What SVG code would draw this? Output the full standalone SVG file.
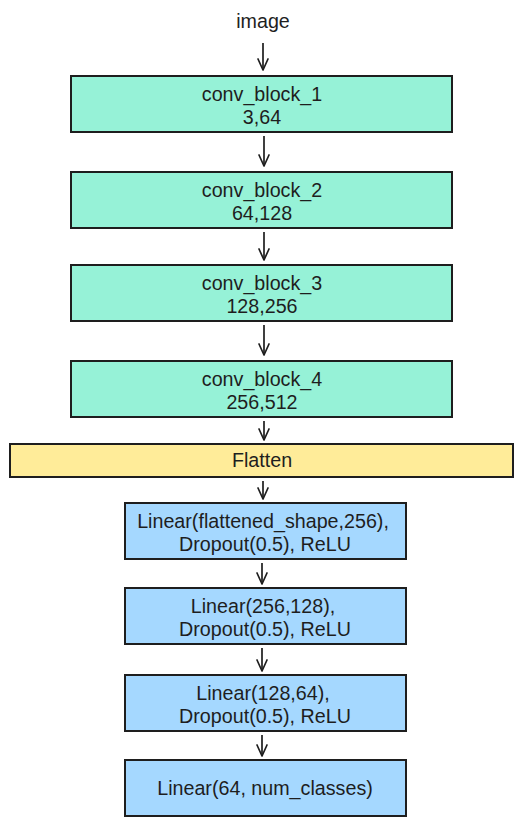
<svg xmlns="http://www.w3.org/2000/svg" width="531" height="825" viewBox="0 0 531 825">
<defs>
<marker id="ah" markerUnits="userSpaceOnUse" markerWidth="14" markerHeight="14" viewBox="-7 -12 14 14" refX="0" refY="0" orient="auto-start-reverse" overflow="visible">
<path d="M-11,-5 L0,0 L-11,5" fill="none" stroke="#1e1e1e" stroke-width="1.7" stroke-linecap="round" stroke-linejoin="round"/>
</marker>
<style>
.b{stroke:#1e1e1e;stroke-width:2}
.conv{fill:#96f2d7}
.flat{fill:#ffec99}
.lin{fill:#a5d8ff}
text{font-family:"Liberation Sans",Arial,Helvetica,sans-serif;font-size:19.7px;fill:#1e1e1e;text-anchor:middle}
.e{fill:none;stroke:#1e1e1e;stroke-width:1.7;marker-end:url(#ah)}
</style>
</defs>
<g id="image"><text x="263" y="28">image</text></g>
<g id="conv_block_1"><rect class="b conv" x="71" y="76" width="381" height="56"/><text x="262" y="101">conv_block_1</text><text x="262" y="124">3,64</text></g>
<g id="conv_block_2"><rect class="b conv" x="71" y="172" width="381" height="56"/><text x="262" y="197">conv_block_2</text><text x="262" y="220">64,128</text></g>
<g id="conv_block_3"><rect class="b conv" x="71" y="265" width="381" height="56"/><text x="262" y="290">conv_block_3</text><text x="262" y="313">128,256</text></g>
<g id="conv_block_4"><rect class="b conv" x="71" y="361" width="381" height="56"/><text x="262" y="386">conv_block_4</text><text x="262" y="409">256,512</text></g>
<g id="flatten"><rect class="b flat" x="10" y="444" width="503" height="33"/><text x="262" y="467">Flatten</text></g>
<g id="linear_1"><rect class="b lin" x="125" y="503" width="281" height="56"/><text x="263" y="528">Linear(flattened_shape,256),</text><text x="265" y="551">Dropout(0.5), ReLU</text></g>
<g id="linear_2"><rect class="b lin" x="125" y="588" width="281" height="56"/><text x="263" y="613">Linear(256,128),</text><text x="265" y="636">Dropout(0.5), ReLU</text></g>
<g id="linear_3"><rect class="b lin" x="125" y="675" width="281" height="56"/><text x="263" y="700">Linear(128,64),</text><text x="265" y="723">Dropout(0.5), ReLU</text></g>
<g id="linear_4"><rect class="b lin" x="125" y="760" width="281" height="56"/><text x="265" y="795">Linear(64, num_classes)</text></g>
<g id="connectors">
<path class="e" d="M263,43 L263,70"/>
<path class="e" d="M264,136 L264,166"/>
<path class="e" d="M264,232 L264,260"/>
<path class="e" d="M264,325 L264,355"/>
<path class="e" d="M264,421 L264,440"/>
<path class="e" d="M263,481 L263,499"/>
<path class="e" d="M262,563 L262,584"/>
<path class="e" d="M262,648 L262,671"/>
<path class="e" d="M262,735 L262,756"/>
</g>
</svg>
